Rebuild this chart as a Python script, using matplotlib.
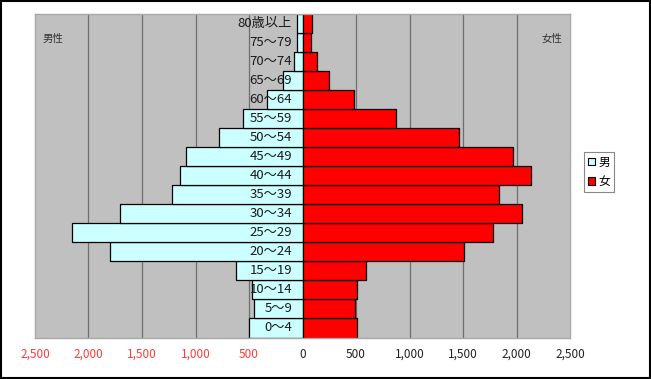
import matplotlib
matplotlib.use('Agg')
import matplotlib.pyplot as plt
from matplotlib.patches import Rectangle, Patch
from matplotlib.ticker import FuncFormatter

plt.rcParams['font.family'] = ['Noto Sans CJK JP', 'DejaVu Sans']

# age groups, bottom to top
ages = ['0～4', '5～9', '10～14', '15～19', '20～24', '25～29', '30～34', '35～39',
        '40～44', '45～49', '50～54', '55～59', '60～64', '65～69', '70～74',
        '75～79', '80歳以上']
male = [496, 455, 468, 623, 1796, 2151, 1702, 1216, 1141, 1085, 779, 552,
        330, 184, 81, 47, 47]
female = [514, 495, 505, 598, 1511, 1782, 2053, 1832, 2140, 1966, 1458, 873,
          477, 243, 134, 81, 88]
xticks = [-2500, -2000, -1500, -1000, -500, 0, 500, 1000, 1500, 2000, 2500]

fig = plt.figure(figsize=(6.51, 3.79), dpi=100)
ax = fig.add_axes([35/651, (379-337.5)/379, 535/651, 323.5/379])
ax.set_facecolor('#C0C0C0')

y = list(range(len(ages)))
ax.barh(y, [-m for m in male], height=1.0, color='#CCFFFF', edgecolor='black',
        linewidth=0.9, zorder=2, label='男')
ax.barh(y, female, height=1.0, color='#FF0000', edgecolor='black',
        linewidth=0.9, zorder=2, label='女')

# vertical grid lines
for x in xticks[1:-1]:
    if x != 0:
        ax.axvline(x, color='#6E6E6E', linewidth=0.9, zorder=1)

# age labels over the male bars
for i, a in enumerate(ages):
    ax.annotate(a, xy=(0, i), xytext=(-7.5, 0), textcoords='offset points',
                ha='right', va='center', fontsize=9.5, color='#1A1A1A', zorder=3)

ax.set_xlim(-2500, 2500)
ax.set_ylim(-0.5, len(ages) - 0.5)
ax.set_xticks(xticks)
ax.xaxis.set_major_formatter(FuncFormatter(lambda v, p: '{:,}'.format(abs(int(v)))))
ax.set_yticks([])
ax.tick_params(axis='x', length=0, pad=7.5, labelsize=8.5)
for lbl, v in zip(ax.get_xticklabels(), xticks):
    if v < 0:
        lbl.set_color('#FF3B3B')
    else:
        lbl.set_color('#222222')

for s in ax.spines.values():
    s.set_color('#A8A8A8')
    s.set_linewidth(1.0)

ax.text(0.015, 0.922, '男性', transform=ax.transAxes, fontsize=7.5,
        color='#333333', ha='left', va='center')
ax.text(0.985, 0.922, '女性', transform=ax.transAxes, fontsize=7.5,
        color='#333333', ha='right', va='center')

handles = [Patch(facecolor='#CCFFFF', edgecolor='black', linewidth=0.8),
           Patch(facecolor='#FF0000', edgecolor='black', linewidth=0.8)]
leg = fig.legend(handles, ['男', '女'], loc='center', bbox_to_anchor=(599/651, 1-172/379),
                 fontsize=8.5, handlelength=0.6, handleheight=0.6, handletextpad=0.3,
                 borderpad=0.35, labelspacing=0.55, fancybox=False, framealpha=1,
                 borderaxespad=0)
leg.get_frame().set_edgecolor('#888888')
leg.get_frame().set_linewidth(0.8)

# outer chart border
fig.patches.append(Rectangle((1/651, 1/379), 649/651, 377/379, transform=fig.transFigure,
                             fill=False, edgecolor='black', linewidth=1.5))

fig.savefig('out.png', dpi=100)
